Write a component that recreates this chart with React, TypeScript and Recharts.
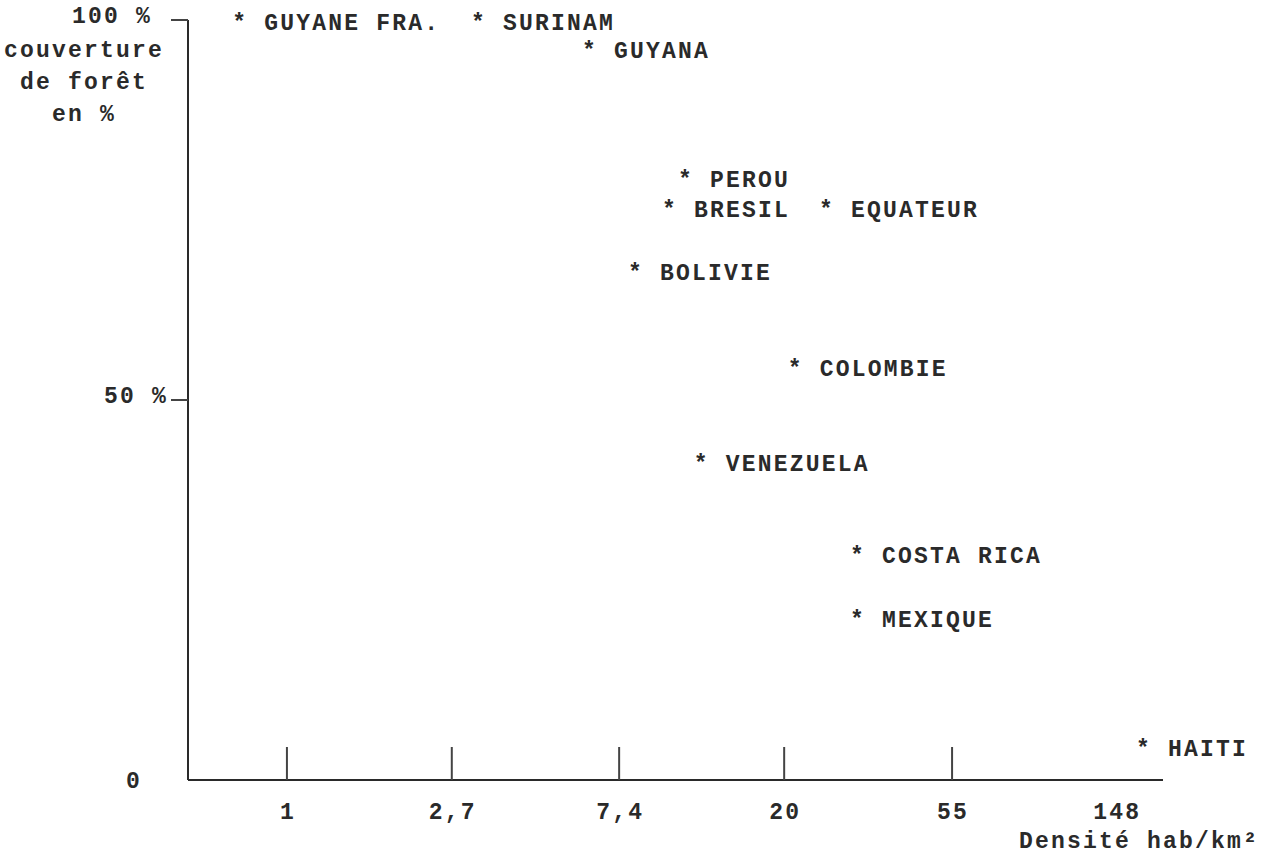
import { Scatter, ScatterChart, XAxis, YAxis } from "recharts";

const countries = [
  "GUYANE FRA.",
  "SURINAM",
  "GUYANA",
  "PEROU",
  "BRESIL",
  "EQUATEUR",
  "BOLIVIE",
  "COLOMBIE",
  "VENEZUELA",
  "COSTA RICA",
  "MEXIQUE",
  "HAITI",
];
// hab/km²
const density = [0.75, 3.16, 6.17, 11.0, 9.98, 25.7, 8.14, 21.3, 12.1, 31.0, 31.0, 173.6];
// forest cover, %
const forestCover = [100, 100, 96.3, 79.3, 75.4, 75.4, 67.1, 54.5, 42.0, 29.9, 21.4, 4.5];

const xTicks = [1, 2.7, 7.4, 20, 55, 148];
const yTicks = [0, 50, 100];

const points = countries.map((name, i) => ({ name, x: density[i], y: forestCover[i] }));

const INK = "#2a2a2a";
const FONT = {
  fontFamily: "'Liberation Mono', monospace",
  fontSize: 23,
  letterSpacing: 2.2,
  fontWeight: 700,
  fill: INK,
};
const HALF_CELL = 6.9; // half of the glyph advance (0.6em)

function StarLabel(props: any) {
  const { cx, cy, payload } = props;
  // the star sits in the first character cell, centred on the point
  return (
    <text x={cx - HALF_CELL} y={cy + 10} {...FONT}>
      {"* " + payload.name}
    </text>
  );
}

function XTick({ x, y, payload, index }: any) {
  const last = index === xTicks.length - 1;
  return (
    <g>
      {!last && <line x1={x} y1={y} x2={x} y2={y - 33} stroke="#444" strokeWidth={2} />}
      <text x={x + 1} y={y + 33} textAnchor="middle" dominantBaseline="central" {...FONT}>
        {String(payload.value).replace(".", ",")}
      </text>
    </g>
  );
}

function YTick({ x, y, payload }: any) {
  const v = payload.value;
  if (v === 0) {
    return (
      <text x={x - 46} y={y + 2} textAnchor="end" dominantBaseline="central" {...FONT}>
        0
      </text>
    );
  }
  const top = v === yTicks[yTicks.length - 1];
  return (
    <g>
      <line x1={x - 17} y1={y} x2={x} y2={y} stroke="#444" strokeWidth={2} />
      <text x={x - (top ? 36 : 20)} y={y - 3} textAnchor="end" dominantBaseline="central" {...FONT}>
        {`${v} %`}
      </text>
    </g>
  );
}

function YTitle({ viewBox }: any) {
  const lines = ["couverture", "de forêt", "en %"];
  return (
    <g>
      {lines.map((l, i) => (
        <text
          key={l}
          x={viewBox.x + 84}
          y={viewBox.y + 31 + i * 32}
          textAnchor="middle"
          dominantBaseline="central"
          {...FONT}
        >
          {l}
        </text>
      ))}
    </g>
  );
}

function XTitle({ viewBox }: any) {
  return (
    <text
      x={viewBox.x + viewBox.width + 96}
      y={viewBox.y + 62}
      textAnchor="end"
      dominantBaseline="central"
      {...FONT}
    >
      Densité hab/km²
    </text>
  );
}

export default function App() {
  return (
    <div style={{ position: "absolute", left: 0, top: 0, width: 1266, height: 854, background: "#fff" }}>
      <ScatterChart width={1266} height={854} margin={{ top: 20, right: 103, bottom: 0, left: 0 }}>
        <XAxis
          type="number"
          dataKey="x"
          scale="log"
          domain={[0.551, 196]}
          ticks={xTicks}
          interval={0}
          height={74}
          tickSize={0}
          tickMargin={0}
          axisLine={{ stroke: INK, strokeWidth: 2 }}
          tickLine={false}
          tick={<XTick />}
          label={<XTitle />}
        />
        <YAxis
          type="number"
          dataKey="y"
          domain={[0, 100]}
          ticks={yTicks}
          interval={0}
          width={188}
          tickSize={0}
          tickMargin={0}
          axisLine={{ stroke: INK, strokeWidth: 2 }}
          tickLine={false}
          tick={<YTick />}
          label={<YTitle />}
        />
        <Scatter data={points} shape={<StarLabel />} isAnimationActive={false} />
      </ScatterChart>
    </div>
  );
}
